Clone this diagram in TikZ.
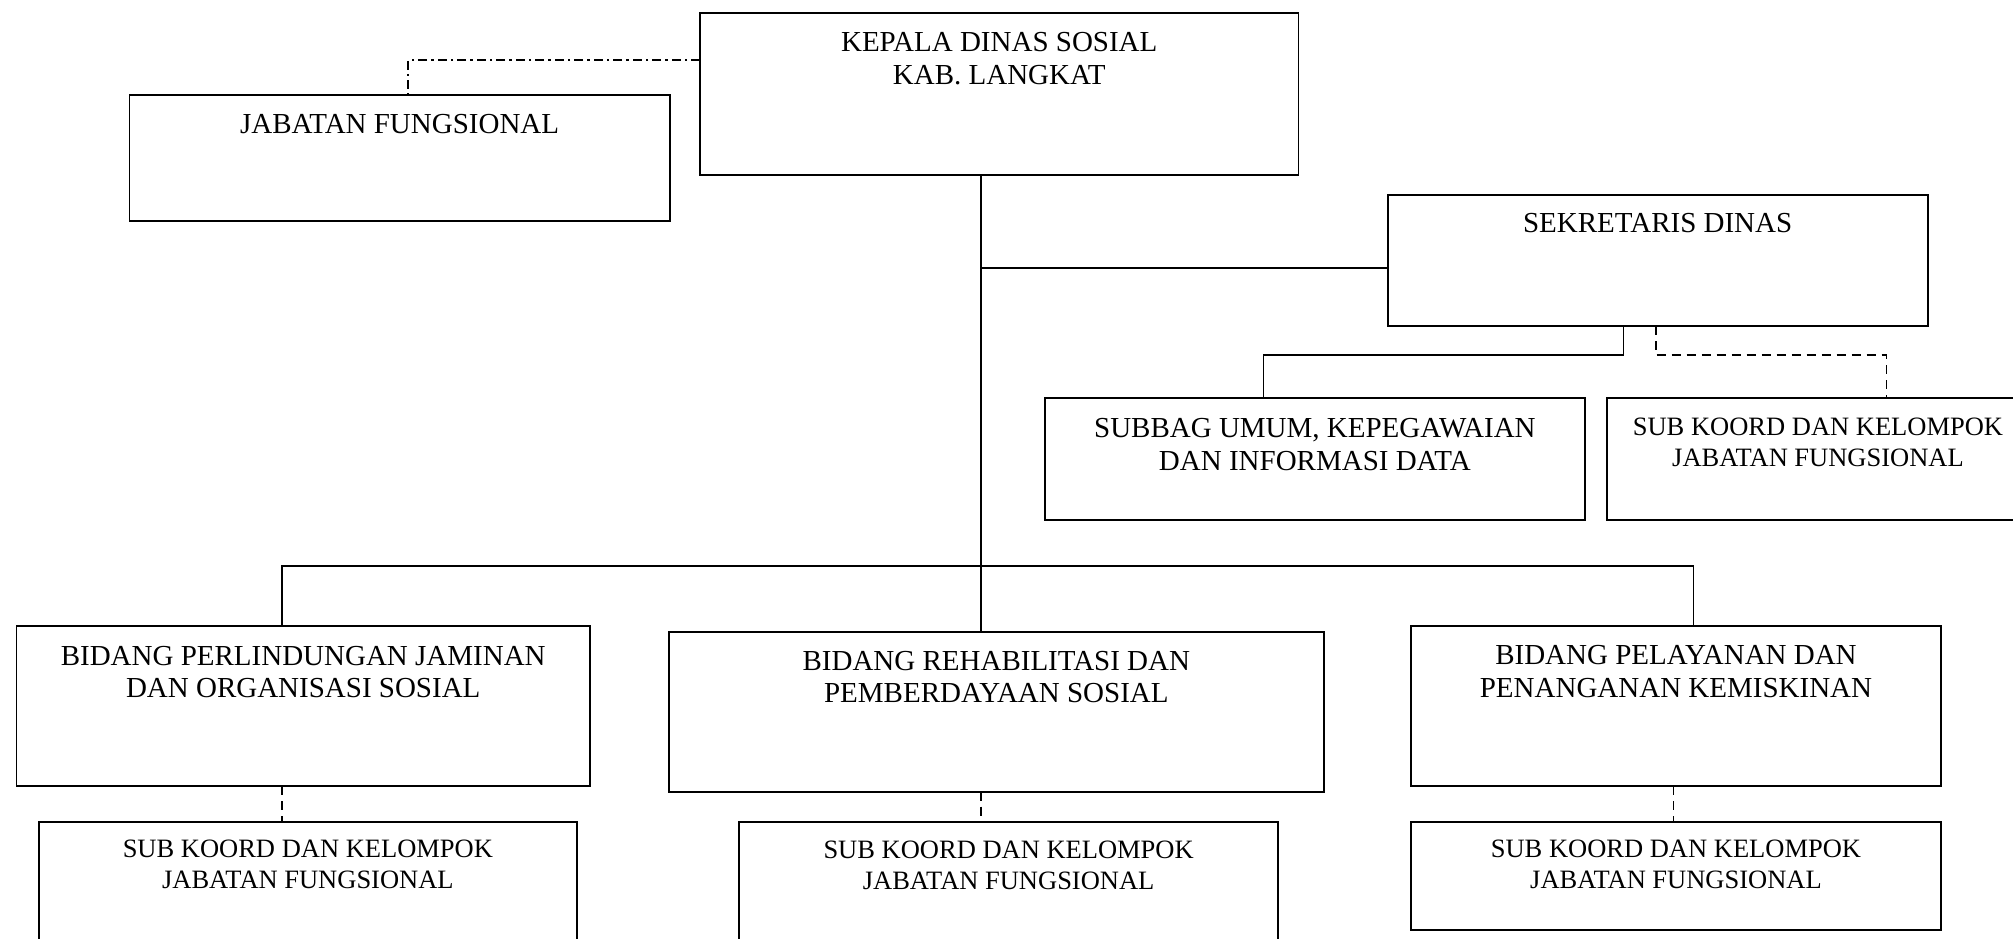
\documentclass[tikz,border=0pt]{standalone}
\usepackage{fontspec}
\setmainfont{Liberation Serif}
\newcommand\bigf{\fontsize{29}{32.5}\selectfont}
\newcommand\smallf{\fontsize{26.5}{31}\selectfont}
\tikzset{
  orgbox/.style={draw, line width=1.8pt, rectangle, inner sep=0pt, outer sep=0pt, anchor=north west},
  conn/.style={line width=1.6pt},
  dashconn/.style={line width=1.6pt, dash pattern=on 9pt off 6pt},
  dotdashconn/.style={line width=1.6pt, dash pattern=on 9pt off 4pt on 2.5pt off 4pt}
}
\newcommand\orgbox[8]{\node[orgbox] (#1) at (#2,#3) {\parbox[c][#5pt][t]{#4pt}{#6\centering\rule{0pt}{#7pt}#8\par}};}
\begin{document}
\begin{tikzpicture}[x=1pt,y=-1pt]
\fill[white] (0,0) rectangle (2013,939);
\useasboundingbox (0,0) rectangle (2013,939);

\orgbox{kepala}{700}{13.3}{598.5}{161.7}{\bigf}{38.5}{KEPALA DINAS SOSIAL\\KAB. LANGKAT}
\orgbox{jf}{129.5}{95}{540.2}{125.7}{\bigf}{38.5}{JABATAN FUNGSIONAL}
\orgbox{sek}{1387.6}{195}{540.1}{131}{\bigf}{37.5}{SEKRETARIS DINAS}
\orgbox{subbag}{1045.2}{398.3}{539.4}{121.7}{\bigf}{39.5}{SUBBAG UMUM, KEPEGAWAIAN\\DAN INFORMASI DATA}
\orgbox{sktr}{1607}{398.3}{422}{121.7}{\smallf}{37}{SUB KOORD DAN KELOMPOK\\JABATAN FUNGSIONAL}
\orgbox{bid1}{16.5}{626}{573.5}{160}{\bigf}{39}{BIDANG PERLINDUNGAN JAMINAN\\DAN ORGANISASI SOSIAL}
\orgbox{bid2}{668.7}{631.7}{655.3}{160}{\bigf}{38.5}{BIDANG REHABILITASI DAN\\PEMBERDAYAAN SOSIAL}
\orgbox{bid3}{1411.3}{625.7}{529.4}{160.3}{\bigf}{39}{BIDANG PELAYANAN DAN\\PENANGANAN KEMISKINAN}
\orgbox{sk1}{38.8}{821.7}{538.2}{138}{\smallf}{36}{SUB KOORD DAN KELOMPOK\\JABATAN FUNGSIONAL}
\orgbox{sk2}{739.3}{822.3}{538.7}{138}{\smallf}{36}{SUB KOORD DAN KELOMPOK\\JABATAN FUNGSIONAL}
\orgbox{sk3}{1411.3}{822.3}{529.4}{107.7}{\smallf}{35}{SUB KOORD DAN KELOMPOK\\JABATAN FUNGSIONAL}

% coordinates for connector bends
\coordinate (tx) at (981,0);
\coordinate (busL) at (281.7,565.7);
\coordinate (busR) at (1693.3,565.7);
\coordinate (sekj) at (981,267.7);
\coordinate (s1) at (1623.4,355);
\coordinate (s2) at (1263.6,355);
\coordinate (d1) at (1655.7,355);
\coordinate (d2) at (1886.3,355);
\coordinate (jfc) at (408,60.3);
\coordinate (b3x) at (1673.4,0);

% solid connectors
\draw[conn] (kepala.south -| tx) -- (bid2.north -| tx);
\draw[conn] (bid1.north -| busL) -- (busL) -- (busR) -- (bid3.north -| busR);
\draw[conn] (sekj) -- (sekj -| sek.west);
\draw[conn] (s1 |- sek.south) -- (s1) -- (s2) -- (s2 |- subbag.north);

% dashed connectors
\draw[dashconn] (d1 |- sek.south) -- (d1) -- (d2) -- (d2 |- sktr.north);
\draw[dashconn] (bid1.south -| busL) -- (sk1.north -| busL);
\draw[dashconn] (bid2.south -| tx) -- (sk2.north -| tx);
\draw[dashconn] (bid3.south -| b3x) -- (sk3.north -| b3x);

% dash-dot connector
\draw[dotdashconn] (jfc -| kepala.west) -- (jfc) -- (jfc |- jf.north);
\end{tikzpicture}
\end{document}
